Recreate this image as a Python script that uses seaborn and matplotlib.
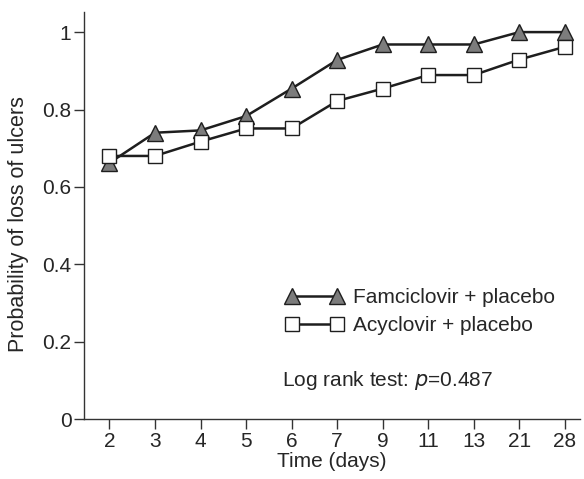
import matplotlib
matplotlib.use("Agg")
import matplotlib.pyplot as plt
import seaborn as sns
import numpy as np
import pandas as pd

# values
days = ["2", "3", "4", "5", "6", "7", "9", "11", "13", "21", "28"]
famciclovir = [0.662, 0.740, 0.746, 0.783, 0.854, 0.928, 0.968, 0.968, 0.968, 1.0, 1.0]
acyclovir = [0.680, 0.680, 0.717, 0.751, 0.751, 0.822, 0.854, 0.889, 0.889, 0.929, 0.962]
yticks = [0, 0.2, 0.4, 0.6, 0.8, 1]
ytick_labels = ["0", "0.2", "0.4", "0.6", "0.8", "1"]

sns.set_style("ticks")
plt.rcParams["font.family"] = ["Liberation Sans", "DejaVu Sans"]
plt.rcParams["font.size"] = 15

pos = np.arange(len(days))
df_f = pd.DataFrame({"pos": pos, "p": famciclovir})
df_a = pd.DataFrame({"pos": pos, "p": acyclovir})

fig = plt.figure(figsize=(5.84, 4.79), dpi=100)
ax = fig.add_axes([0.1437, 0.125, 0.8493, 0.85])

sns.lineplot(data=df_f, x="pos", y="p", ax=ax, color="#1e1e1e", linewidth=1.8,
             marker="^", markersize=11, markerfacecolor="#7c7c7c",
             markeredgecolor="#1e1e1e", markeredgewidth=1.0,
             label="Famciclovir + placebo")
sns.lineplot(data=df_a, x="pos", y="p", ax=ax, color="#1e1e1e", linewidth=1.8,
             marker="s", markersize=10, markerfacecolor="white",
             markeredgecolor="#1e1e1e", markeredgewidth=1.0,
             label="Acyclovir + placebo")

ax.set_xlim(-0.56, 10.33)
ax.set_ylim(0, 1.052)
ax.set_xticks(pos)
ax.set_xticklabels(days)
ax.set_yticks(yticks)
ax.set_yticklabels(ytick_labels)
ax.tick_params(length=7, width=1, color="#333333", labelsize=15, pad=2)
ax.set_xlabel("Time (days)", fontsize=15)
ax.set_ylabel("Probability of loss of ulcers", fontsize=15.5)
ax.xaxis.set_label_coords(0.5, -0.08)
ax.yaxis.set_label_coords(-0.11, 0.48)
sns.despine(ax=ax)
for s in ["left", "bottom"]:
    ax.spines[s].set_color("#333333")
    ax.spines[s].set_linewidth(1.0)

leg = ax.legend(loc="center left", bbox_to_anchor=(0.406, 0.264), frameon=False,
                numpoints=2, handlelength=2.8, handletextpad=0.45,
                labelspacing=0.4, fontsize=15, borderaxespad=0, borderpad=0)

ax.text(0.40, 0.096, "Log rank test: $\\mathit{p}$=0.487", transform=ax.transAxes,
        fontsize=15, va="center", ha="left")

fig.savefig("out.png", dpi=100)
